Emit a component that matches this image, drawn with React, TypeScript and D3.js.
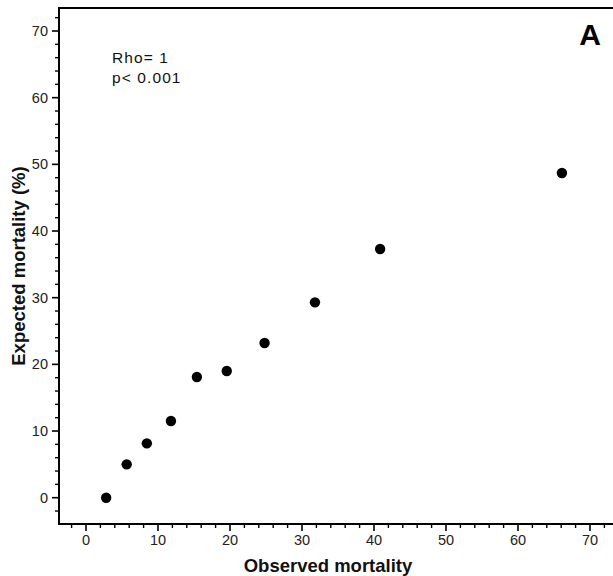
import React from "react";
import * as d3 from "d3";

const observed = [2.8, 5.65, 8.45, 11.8, 15.4, 19.55, 24.8, 31.8, 40.85, 66.1];
const expected = [0, 5.0, 8.15, 11.5, 18.1, 19.0, 23.2, 29.3, 37.3, 48.7];
const majorTicks = [0, 10, 20, 30, 40, 50, 60, 70];
const minorStep = 2;
const statLines = ["Rho= 1", "p< 0.001"];
const panelLabel = "A";
const xTitle = "Observed mortality";
const yTitle = "Expected mortality (%)";

const W = 613;
const H = 576;
const left = 59;
const top = 8;
const bottom = 524;
const right = 640;

export default function App() {
  const x = d3.scaleLinear().domain([0, 70]).range([86, 590]);
  const y = d3.scaleLinear().domain([0, 70]).range([497.7, 31]);
  const xMin = x.invert(left);
  const xMax = x.invert(W);
  const yMin = y.invert(bottom);
  const yMax = y.invert(top);
  const xMinor = d3.range(Math.ceil(xMin / minorStep) * minorStep, xMax, minorStep).filter((v) => v % 10 !== 0);
  const yMinor = d3.range(Math.ceil(yMin / minorStep) * minorStep, yMax, minorStep).filter((v) => v % 10 !== 0);
  const font = "'Liberation Sans', Arial, Helvetica, sans-serif";
  const pts = observed.map((o, i) => ({ o, e: expected[i] }));
  return (
    <div style={{ position: "fixed", left: 0, top: 0 }}>
      <svg width={W} height={H} style={{ display: "block", background: "#fff" }} fontFamily={font}>
        <rect width={W} height={H} fill="#fff" />
        {/* frame */}
        <line x1={left} x2={right} y1={top} y2={top} stroke="#000" strokeWidth={2} />
        <line x1={left} x2={left} y1={top - 1} y2={bottom + 1} stroke="#000" strokeWidth={2} />
        <line x1={left - 1} x2={right} y1={bottom} y2={bottom} stroke="#000" strokeWidth={2} />
        {/* x ticks */}
        {majorTicks.map((t) => (
          <g key={"xm" + t}>
            <line x1={x(t)} x2={x(t)} y1={bottom} y2={bottom + 7} stroke="#000" strokeWidth={1.6} />
            <text x={x(t)} y={545} textAnchor="middle" fontSize={14.5} fill="#222">{t}</text>
          </g>
        ))}
        {xMinor.map((t) => (
          <line key={"xn" + t} x1={x(t)} x2={x(t)} y1={bottom} y2={bottom + 4} stroke="#000" strokeWidth={1.4} />
        ))}
        {/* y ticks */}
        {majorTicks.map((t) => (
          <g key={"ym" + t}>
            <line x1={left} x2={left - 7} y1={y(t)} y2={y(t)} stroke="#000" strokeWidth={1.6} />
            <text x={48} y={y(t) + 5} textAnchor="end" fontSize={14.5} fill="#222">{t}</text>
          </g>
        ))}
        {yMinor.map((t) => (
          <line key={"yn" + t} x1={left} x2={left - 4} y1={y(t)} y2={y(t)} stroke="#000" strokeWidth={1.4} />
        ))}
        {/* points */}
        {pts.map((p, i) => (
          <circle key={i} cx={x(p.o)} cy={y(p.e)} r={5.2} fill="#000" />
        ))}
        {/* annotations */}
        {statLines.map((s, i) => (
          <text key={s} x={112} y={63 + i * 20} fontSize={15.5} letterSpacing={1.1} fill="#111">{s}</text>
        ))}
        <text x={590} y={45} textAnchor="middle" fontSize={30} fontWeight="bold" fill="#000">{panelLabel}</text>
        <text x={328} y={572} textAnchor="middle" fontSize={18.5} fontWeight="bold" fill="#111">{xTitle}</text>
        <text transform={`translate(25,266) rotate(-90)`} textAnchor="middle" fontSize={18.5} fontWeight="bold" fill="#111">{yTitle}</text>
      </svg>
    </div>
  );
}
